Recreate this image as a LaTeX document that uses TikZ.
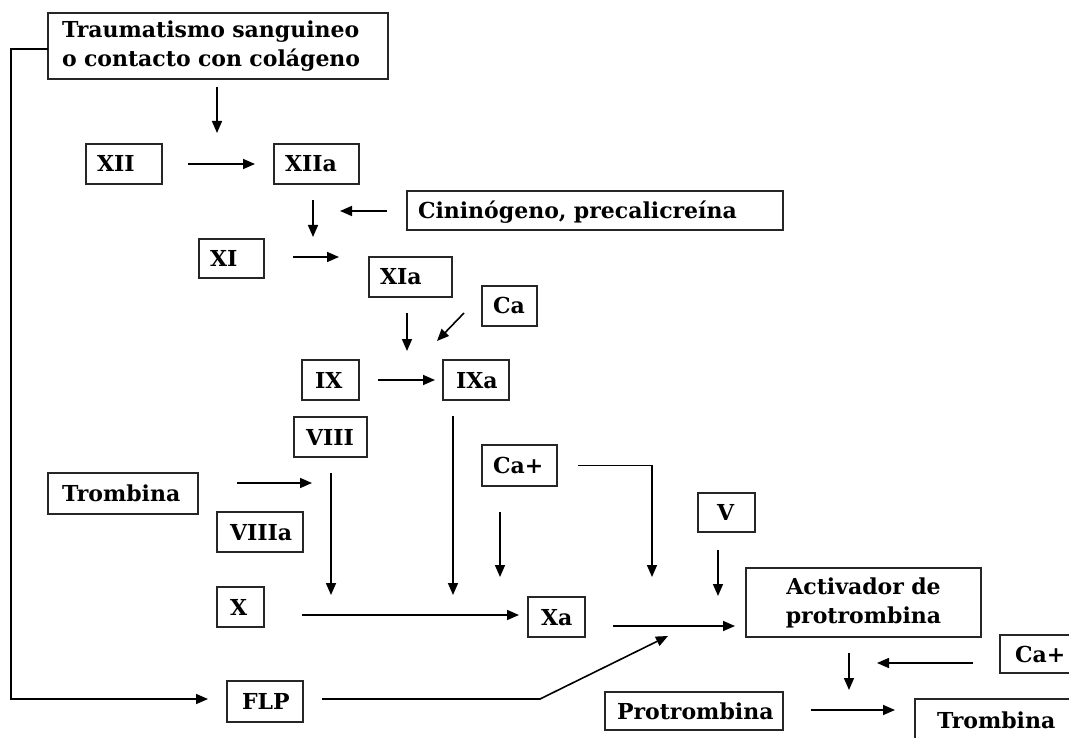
\documentclass[tikz,border=0pt]{standalone}
\usepackage{fontspec}
\setmainfont{DejaVu Serif}
\usetikzlibrary{arrows.meta,calc}
\begin{document}
\begin{tikzpicture}[x=1pt,y=-1pt,
  font=\fontsize{22}{29}\selectfont\bfseries,
  bx/.code n args={3}{%
    \pgfmathsetmacro\bxtw{#1-2*#3}%
    \tikzset{draw=black!85, line width=1.7pt, outer sep=0pt,
      minimum width=#1pt, minimum height=#2pt,
      inner xsep=#3pt, inner ysep=0pt,
      text width=\bxtw pt, align=left}},
  one/.style={text height=20pt, text depth=4pt},
  arr/.style={line width=1.6pt, -{Triangle[length=12pt,width=10pt]}}]
\path[use as bounding box] (0,0) rectangle (1069,738);
\clip (0,0) rectangle (1069,738);

% factor boxes
\node[bx={340}{66}{14}] (trauma) at (218,46) {Traumatismo sanguineo\\o contacto con colágeno};
\node[bx={76}{40}{11},one] (xii) at (124,164) {XII};
\node[bx={85}{40}{11},one] (xiia) at (316.5,164) {XIIa};
\node[bx={376}{39}{11},one] (cini) at (595,210.5) {Cininógeno, precalicreína};
\node[bx={65}{39}{11},one] (xi) at (231.5,258.5) {XI};
\node[bx={83}{40}{11},one] (xia) at (410.5,277) {XIa};
\node[bx={55}{40}{11},one] (ca) at (509.5,306) {Ca};
\node[bx={57}{40}{13},one] (ix) at (330.5,380) {IX};
\node[bx={66}{40}{13},one] (ixa) at (476,380) {IXa};
\node[bx={73}{40}{12},one] (viii) at (330.5,437) {VIII};
\node[bx={75}{41}{11},one] (caplus) at (519.5,465.5) {Ca+};
\node[bx={150}{41}{14},one] (trombina) at (123,493.5) {Trombina};
\node[bx={86}{40}{13},one] (viiia) at (260,532) {VIIIa};
\node[bx={47}{40}{13},one] (x) at (240.5,607) {X};
\node[bx={57}{40}{13},one] (xa) at (556.5,617) {Xa};
\node[bx={57}{39}{19},one] (v) at (726.5,512.5) {V};
\node[bx={235}{69}{10},align=center] (activ) at (863.5,602.5) {Activador de\\protrombina};
\node[bx={76}{41}{15},one] (flp) at (265,701.5) {FLP};
\node[bx={75}{38}{15},one] (caplus2) at (1037.5,654) {Ca+};
\node[bx={178}{38}{12},one] (protro) at (694,711) {Protrombina};
\node[bx={160}{42}{22},one] (trombina2) at (995,720) {Trombina};

% free arrow ends
\coordinate (p1) at (217,133);
\coordinate (p2) at (313,237);
\coordinate (p3) at (340,211);
\coordinate (p4) at (339,257);
\coordinate (p5) at (407,351);
\coordinate (p6) at (437,341);
\coordinate (p7) at (453,595);
\coordinate (p8) at (331,595);
\coordinate (p9) at (312,483);
\coordinate (p10) at (500,577);
\coordinate (p11) at (519,615);
\coordinate (p12) at (652,577);
\coordinate (p13) at (718,596);
\coordinate (p14) at (735,626);
\coordinate (p15) at (11,49);
\coordinate (p16) at (11,699);
\coordinate (p17) at (540,699);
\coordinate (p18) at (668,636);
\coordinate (p19) at (849,690);
\coordinate (p20) at (877,663);
\coordinate (p21) at (895,710);

% connectors
\draw[arr, shorten <=8pt] (trauma.south -| p1) -- (p1);
\draw[arr, shorten <=26pt, shorten >=19pt] (xii.east) -- (xiia.west);
\draw[arr, shorten <=16pt] (xiia.south -| p2) -- (p2);
\draw[arr, shorten <=20pt] (cini.west |- p3) -- (p3);
\draw[arr, shorten <=29pt] (xi.east |- p4) -- (p4);
\draw[arr, shorten <=16pt] (xia.south -| p5) -- (p5);
\draw[arr] ($(ca.south west)+(-18,-13)$) -- (p6);
\draw[arr, shorten <=19pt, shorten >=8pt] (ix.east) -- (ixa.west);
\draw[arr, shorten <=16pt] (ixa.south -| p7) -- (p7);
\draw[arr, shorten <=16pt] (viii.south -| p8) -- (p8);
\draw[arr, shorten <=39pt] (trombina.east |- p9) -- (p9);
\draw[arr, shorten <=26pt] (caplus.south -| p10) -- (p10);
\draw[arr, shorten <=38pt] (x.east |- p11) -- (p11);
\draw[arr, shorten <=21pt] (caplus.east) -| (p12);
\draw[arr, shorten <=18pt] (v.south -| p13) -- (p13);
\draw[arr, shorten <=28pt] (xa.east |- p14) -- (p14);
\draw[arr, shorten >=19pt] (trauma.west |- p15) -- (p15) -- (p16) -- (flp.west |- p16);
\draw[arr, shorten <=19pt] (flp.east |- p17) -- (p17) -- (p18);
\draw[arr, shorten <=16pt] (activ.south -| p19) -- (p19);
\draw[arr, shorten <=27pt] (caplus2.west |- p20) -- (p20);
\draw[arr, shorten <=28pt] (protro.east |- p21) -- (p21);
\end{tikzpicture}
\end{document}
